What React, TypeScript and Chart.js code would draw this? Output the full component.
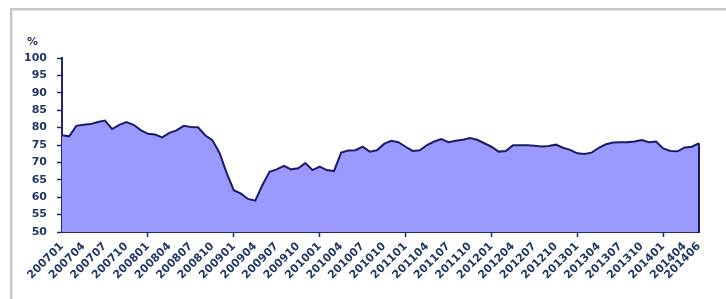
import { useEffect, useRef } from "react";
import { Chart, registerables } from "chart.js";

Chart.register(...registerables);

const categories: string[] = [
  "200701", "200702", "200703", "200704", "200705", "200706", "200707", "200708", "200709", "200710", "200711", "200712",
  "200801", "200802", "200803", "200804", "200805", "200806", "200807", "200808", "200809", "200810", "200811", "200812",
  "200901", "200902", "200903", "200904", "200905", "200906", "200907", "200908", "200909", "200910", "200911", "200912",
  "201001", "201002", "201003", "201004", "201005", "201006", "201007", "201008", "201009", "201010", "201011", "201012",
  "201101", "201102", "201103", "201104", "201105", "201106", "201107", "201108", "201109", "201110", "201111", "201112",
  "201201", "201202", "201203", "201204", "201205", "201206", "201207", "201208", "201209", "201210", "201211", "201212",
  "201301", "201302", "201303", "201304", "201305", "201306", "201307", "201308", "201309", "201310", "201311", "201312",
  "201401", "201402", "201403", "201404", "201405", "201406",
];

const utilization: number[] = [
  77.8, 77.5, 80.5, 80.8, 81.0, 81.6, 82.0, 79.6, 80.8, 81.6, 80.8, 79.3,
  78.2, 78.0, 77.2, 78.5, 79.2, 80.5, 80.2, 80.1, 77.8, 76.4, 72.8, 67.0,
  62.0, 61.0, 59.5, 59.0, 63.5, 67.3, 68.0, 69.0, 68.0, 68.3, 69.8, 67.8,
  68.8, 67.8, 67.5, 72.8, 73.4, 73.5, 74.5, 73.1, 73.5, 75.3, 76.2, 75.8,
  74.5, 73.3, 73.5, 75.0, 76.0, 76.7, 75.8, 76.2, 76.5, 77.0, 76.5, 75.5,
  74.5, 73.1, 73.3, 74.9, 74.9, 74.9, 74.8, 74.6, 74.7, 75.1, 74.2, 73.6,
  72.6, 72.4, 72.8, 74.2, 75.2, 75.7, 75.8, 75.8, 76.0, 76.4, 75.8, 76.0,
  74.0, 73.3, 73.2, 74.3, 74.5, 75.5,
];

const tickLabels: string[] = [
  "200701", "200704", "200707", "200710", "200801", "200804", "200807", "200810",
  "200901", "200904", "200907", "200910", "201001", "201004", "201007", "201010",
  "201101", "201104", "201107", "201110", "201201", "201204", "201207", "201210",
  "201301", "201304", "201307", "201310", "201401", "201404", "201406",
];

const yUnit = "%";

const TEXT = "#1f3864";
const AXIS = "#1f2a6e";
const LINE = "#1c1c66";
const FILL = "#9999ff";
const FONT = "'DejaVu Sans', Verdana, sans-serif";

export default function App() {
  const ref = useRef<HTMLCanvasElement | null>(null);

  useEffect(() => {
    if (!ref.current) return;
    const tickSet = new Set(tickLabels);
    const endLine = {
      id: "endLine",
      afterDatasetsDraw(chart: any) {
        const meta = chart.getDatasetMeta(0);
        const pt = meta.data[meta.data.length - 1];
        if (!pt) return;
        const ctx = chart.ctx;
        ctx.save();
        ctx.strokeStyle = LINE;
        ctx.lineWidth = 2;
        ctx.beginPath();
        ctx.moveTo(pt.x, pt.y);
        ctx.lineTo(pt.x, chart.chartArea.bottom);
        ctx.stroke();
        ctx.restore();
      },
    };
    const chart = new Chart(ref.current, {
      type: "line",
      data: {
        labels: categories,
        datasets: [
          {
            data: utilization,
            fill: "start",
            backgroundColor: FILL,
            borderColor: LINE,
            borderWidth: 2,
            pointRadius: 0,
            tension: 0,
          },
        ],
      },
      options: {
        responsive: false,
        animation: false,
        layout: { padding: { top: 58, right: 27, left: 0, bottom: 0 } },
        plugins: { legend: { display: false }, tooltip: { enabled: false } },
        scales: {
          x: {
            ticks: {
              autoSkip: false,
              maxRotation: 45,
              minRotation: 45,
              padding: 3,
              color: TEXT,
              font: { family: FONT, size: 11, weight: "bold" },
              callback: (_v: any, i: number) => (tickSet.has(categories[i]) ? categories[i] : ""),
            },
            grid: {
              drawOnChartArea: false,
              tickLength: 5,
              tickWidth: 1.5,
              tickColor: (c: any) => (c.index > 0 && c.index % 12 === 0 ? AXIS : "transparent"),
            },
            border: { color: AXIS, width: 2 },
            afterFit: (s: any) => {
              s.height = 67;
            },
          },
          y: {
            min: 50,
            max: 100,
            ticks: {
              stepSize: 5,
              padding: 10,
              color: TEXT,
              font: { family: FONT, size: 11, weight: "bold" },
            },
            grid: { drawOnChartArea: false, tickLength: 5, tickWidth: 1.5, tickColor: AXIS },
            border: { color: AXIS, width: 2 },
            afterFit: (s: any) => {
              s.width = 62;
            },
          },
        },
      },
      plugins: [endLine],
    } as any);
    return () => chart.destroy();
  }, []);

  return (
    <div style={{ position: "fixed", left: 0, top: 0, width: 726, height: 299, background: "#fff", overflow: "hidden" }}>
      <div
        style={{
          position: "absolute",
          left: 10,
          top: 8,
          width: 760,
          height: 320,
          borderLeft: "2px solid #c4c7cd",
          borderTop: "2px solid #c4c7cd",
          boxShadow: "inset 1px 1px 0 #dfe5ef",
        }}
      />
      <canvas ref={ref} width={726} height={299} style={{ position: "absolute", left: 0, top: 0, display: "block" }} />
      <div
        style={{
          position: "absolute",
          left: 27,
          top: 35,
          fontFamily: FONT,
          fontWeight: "bold",
          fontSize: 11,
          color: TEXT,
        }}
      >
        {yUnit}
      </div>
    </div>
  );
}
